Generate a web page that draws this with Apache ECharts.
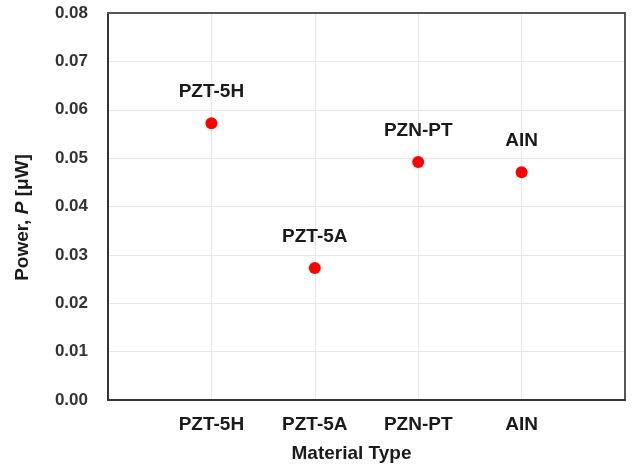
<!DOCTYPE html>
<html>
<head>
<meta charset="utf-8">
<script src="https://cdn.jsdelivr.net/npm/echarts@6/dist/echarts.min.js"></script>
<style>html,body{margin:0;padding:0;background:#fff}#c{width:640px;height:472px}</style>
</head>
<body>
<div id="c"></div>
<script>
const categories = ['PZT-5H', 'PZT-5A', 'PZN-PT', 'AIN'];
const power = [0.0572, 0.0273, 0.0492, 0.0471];
const yTicks = [0, 0.01, 0.02, 0.03, 0.04, 0.05, 0.06, 0.07, 0.08];

const FONT = 'Liberation Sans, Arial, sans-serif';
const xMax = categories.length + 1;
const chart = echarts.init(document.getElementById('c'));
chart.setOption({
  animation: false,
  backgroundColor: '#fff',
  grid: { left: 108, right: 15, top: 13, bottom: 72 },
  xAxis: [{
    type: 'value', min: 0, max: xMax, interval: 1,
    name: 'Material Type', nameLocation: 'middle', nameGap: 44,
    nameTextStyle: { fontFamily: FONT, fontWeight: 'bold', fontSize: 19, color: '#1a1a1a', padding: [0, 30, 0, 0] },
    axisLine: { show: true, onZero: false, lineStyle: { color: '#333', width: 2 } },
    axisTick: { show: false },
    axisLabel: {
      margin: 15, fontFamily: FONT, fontWeight: 'bold', fontSize: 19, color: '#1a1a1a',
      formatter: v => categories[v - 1] || ''
    },
    splitLine: { show: true, lineStyle: { color: '#e6e6e6', width: 1 } }
  }, {
    type: 'value', position: 'top', min: 0, max: xMax, interval: 1,
    axisLine: { show: true, onZero: false, lineStyle: { color: '#555', width: 2 } },
    axisTick: { show: false }, axisLabel: { show: false }, splitLine: { show: false }
  }],
  yAxis: [{
    type: 'value', min: yTicks[0], max: yTicks[yTicks.length - 1], interval: 0.01,
    name: '{n|Power, }{i|P}{n| [μW]}', nameLocation: 'middle', nameGap: 76,
    nameTextStyle: {
      padding: [0, 22, 0, 0],
      rich: {
        n: { fontFamily: FONT, fontWeight: 'bold', fontSize: 19, color: '#1a1a1a' },
        i: { fontFamily: FONT, fontWeight: 'bold', fontStyle: 'italic', fontSize: 19, color: '#1a1a1a' }
      }
    },
    axisLine: { show: true, onZero: false, lineStyle: { color: '#333', width: 2 } },
    axisTick: { show: false },
    axisLabel: { margin: 20, fontFamily: FONT, fontWeight: 'bold', fontSize: 17, color: '#333',
      formatter: v => v.toFixed(2) },
    splitLine: { show: true, lineStyle: { color: '#e6e6e6', width: 1 } }
  }, {
    type: 'value', position: 'right', min: yTicks[0], max: yTicks[yTicks.length - 1], interval: 0.01,
    axisLine: { show: true, onZero: false, lineStyle: { color: '#555', width: 2 } },
    axisTick: { show: false }, axisLabel: { show: false }, splitLine: { show: false }
  }],
  series: [{
    type: 'scatter',
    symbol: 'circle', symbolSize: 12,
    itemStyle: { color: '#ff0000', opacity: 1 },
    data: power.map((p, i) => [i + 1, p]),
    label: {
      show: true, position: 'top', distance: 16,
      fontFamily: FONT, fontWeight: 'bold', fontSize: 19, color: '#1a1a1a',
      formatter: p => categories[p.dataIndex]
    },
    z: 5
  }]
});
</script>
</body>
</html>
